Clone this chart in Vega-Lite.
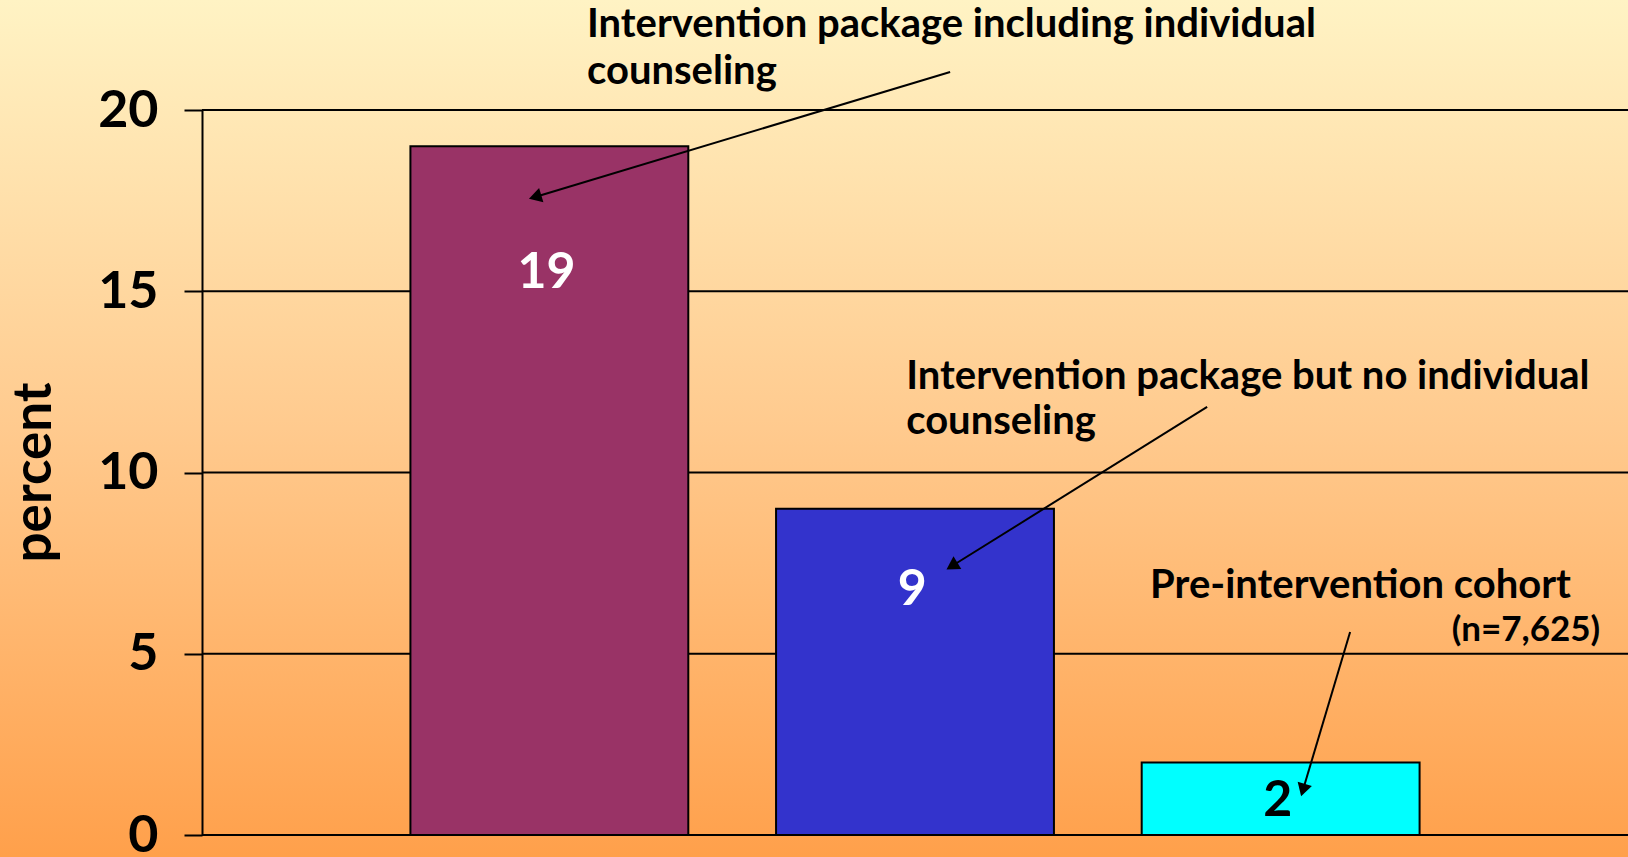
{
  "$schema": "https://vega.github.io/schema/vega-lite/v6.json",
  "width": 1426,
  "height": 725,
  "autosize": {"type": "none"},
  "padding": {"left": 202, "top": 110, "right": 0, "bottom": 22},
  "background": "#FFC98D",
  "config": {
    "view": {"stroke": null},
    "font": "Lato",
    "text": {"font": "Lato", "fontWeight": "bold"}
  },
  "datasets": {
    "rates": [
      {"cohort": "Intervention package including individual counseling", "percent": 19, "labelAt": 15.5},
      {"cohort": "Intervention package but no individual counseling", "percent": 9, "labelAt": 6.75},
      {"cohort": "Pre-intervention cohort", "percent": 2, "labelAt": 0.95}
    ],
    "notes": [
      {"line": "Intervention package including individual", "u": 0.103, "v": 22.34},
      {"line": "counseling", "u": 0.103, "v": 21.04},
      {"line": "Intervention package but no individual", "u": 0.976, "v": 12.63},
      {"line": "counseling", "u": 0.976, "v": 11.39},
      {"line": "Pre-intervention cohort", "u": 1.643, "v": 6.87}
    ],
    "arrows": [
      {"u1": 1.096, "v1": 21.05, "u2": -0.039, "v2": 17.6, "heading": 253.2},
      {"u1": 1.799, "v1": 11.81, "u2": 1.101, "v2": 7.42, "heading": 238.1},
      {"u1": 2.19, "v1": 5.6, "u2": 2.061, "v2": 1.24, "heading": 196.6}
    ],
    "ticks": [{"tick": 0}, {"tick": 5}, {"tick": 10}, {"tick": 15}, {"tick": 20}]
  },
  "layer": [
    {
      "description": "warm vertical wash behind the whole slide",
      "data": {"values": [{}]},
      "mark": {
        "type": "rect",
        "clip": false,
        "fill": {
          "gradient": "linear",
          "x1": 0, "y1": 0, "x2": 0, "y2": 1,
          "stops": [
            {"offset": 0, "color": "#FFF3C4"},
            {"offset": 0.5, "color": "#FFCA8E"},
            {"offset": 1, "color": "#FFA04B"}
          ]
        }
      },
      "encoding": {
        "x": {"datum": -1.5025, "type": "quantitative", "scale": {"domain": [-0.95, 2.95], "nice": false, "zero": false}, "axis": null},
        "x2": {"datum": 2.95},
        "y": {"datum": 23.034, "type": "quantitative", "scale": {"domain": [0, 20], "nice": false}, "axis": null},
        "y2": {"datum": -0.607}
      }
    },
    {
      "description": "horizontal gridlines",
      "data": {"name": "ticks"},
      "mark": {"type": "rule", "color": "black", "strokeWidth": 2},
      "encoding": {
        "y": {"field": "tick", "type": "quantitative", "scale": {"domain": [0, 20], "nice": false}, "axis": null}
      }
    },
    {
      "data": {"name": "rates"},
      "mark": {"type": "bar", "stroke": "black", "strokeWidth": 2},
      "encoding": {
        "x": {
          "field": "cohort", "type": "nominal", "sort": null,
          "scale": {"type": "band", "paddingInner": 0.24, "paddingOuter": 0.57},
          "axis": null
        },
        "y": {
          "field": "percent", "type": "quantitative",
          "scale": {"domain": [0, 20], "nice": false},
          "axis": {
            "values": [0, 5, 10, 15, 20],
            "grid": false,
            "zindex": 1,
            "domainColor": "black",
            "domainWidth": 2,
            "tickColor": "black",
            "tickWidth": 2,
            "tickSize": 18,
            "labelFont": "Lato",
            "labelFontSize": 52,
            "labelFontWeight": "bold",
            "labelColor": "black",
            "labelPadding": 26,
            "title": "percent",
            "titleFont": "Lato",
            "titleFontSize": 53,
            "titleFontWeight": "bold",
            "titleColor": "black",
            "titleAngle": -90,
            "titleAlign": "center",
            "titleBaseline": "alphabetic",
            "titleX": -152,
            "titleY": 362
          }
        },
        "fill": {
          "field": "cohort", "type": "nominal", "sort": null,
          "scale": {"range": ["#993366", "#3333CC", "#00FFFF"]},
          "legend": null
        }
      }
    },
    {
      "description": "value printed inside each bar",
      "data": {"name": "rates"},
      "mark": {"type": "text", "fontSize": 50, "align": "center", "baseline": "middle"},
      "encoding": {
        "x": {
          "field": "cohort", "type": "nominal", "sort": null, "bandPosition": 0.49,
          "scale": {"type": "band", "paddingInner": 0.24, "paddingOuter": 0.57},
          "axis": null
        },
        "y": {"field": "labelAt", "type": "quantitative", "scale": {"domain": [0, 20], "nice": false}, "axis": null},
        "text": {"field": "percent", "type": "quantitative"},
        "color": {"condition": {"test": "datum.percent < 5", "value": "black"}, "value": "white"}
      }
    },
    {
      "data": {"name": "arrows"},
      "mark": {"type": "rule", "color": "black", "strokeWidth": 2, "clip": false},
      "encoding": {
        "x": {"field": "u1", "type": "quantitative", "scale": {"domain": [-0.95, 2.95], "nice": false, "zero": false}, "axis": null},
        "x2": {"field": "u2"},
        "y": {"field": "v1", "type": "quantitative", "scale": {"domain": [0, 20], "nice": false}, "axis": null},
        "y2": {"field": "v2"}
      }
    },
    {
      "description": "arrowheads",
      "data": {"name": "arrows"},
      "mark": {"type": "point", "shape": "triangle-up", "filled": true, "color": "black", "opacity": 1, "size": 220},
      "encoding": {
        "x": {"field": "u2", "type": "quantitative", "scale": {"domain": [-0.95, 2.95], "nice": false, "zero": false}, "axis": null},
        "y": {"field": "v2", "type": "quantitative", "scale": {"domain": [0, 20], "nice": false}, "axis": null},
        "angle": {"field": "heading", "type": "quantitative", "scale": null}
      }
    },
    {
      "data": {"name": "notes"},
      "mark": {"type": "text", "fontSize": 40, "align": "left", "baseline": "middle", "color": "black"},
      "encoding": {
        "x": {"field": "u", "type": "quantitative", "scale": {"domain": [-0.95, 2.95], "nice": false, "zero": false}, "axis": null},
        "y": {"field": "v", "type": "quantitative", "scale": {"domain": [0, 20], "nice": false}, "axis": null},
        "text": {"field": "line"}
      }
    },
    {
      "data": {"values": [{"line": "(n=7,625)", "u": 2.874, "v": 5.66}]},
      "mark": {"type": "text", "fontSize": 35, "align": "right", "baseline": "middle", "color": "black"},
      "encoding": {
        "x": {"field": "u", "type": "quantitative", "scale": {"domain": [-0.95, 2.95], "nice": false, "zero": false}, "axis": null},
        "y": {"field": "v", "type": "quantitative", "scale": {"domain": [0, 20], "nice": false}, "axis": null},
        "text": {"field": "line"}
      }
    }
  ],
  "resolve": {"scale": {"x": "independent"}, "axis": {"y": "independent"}}
}
